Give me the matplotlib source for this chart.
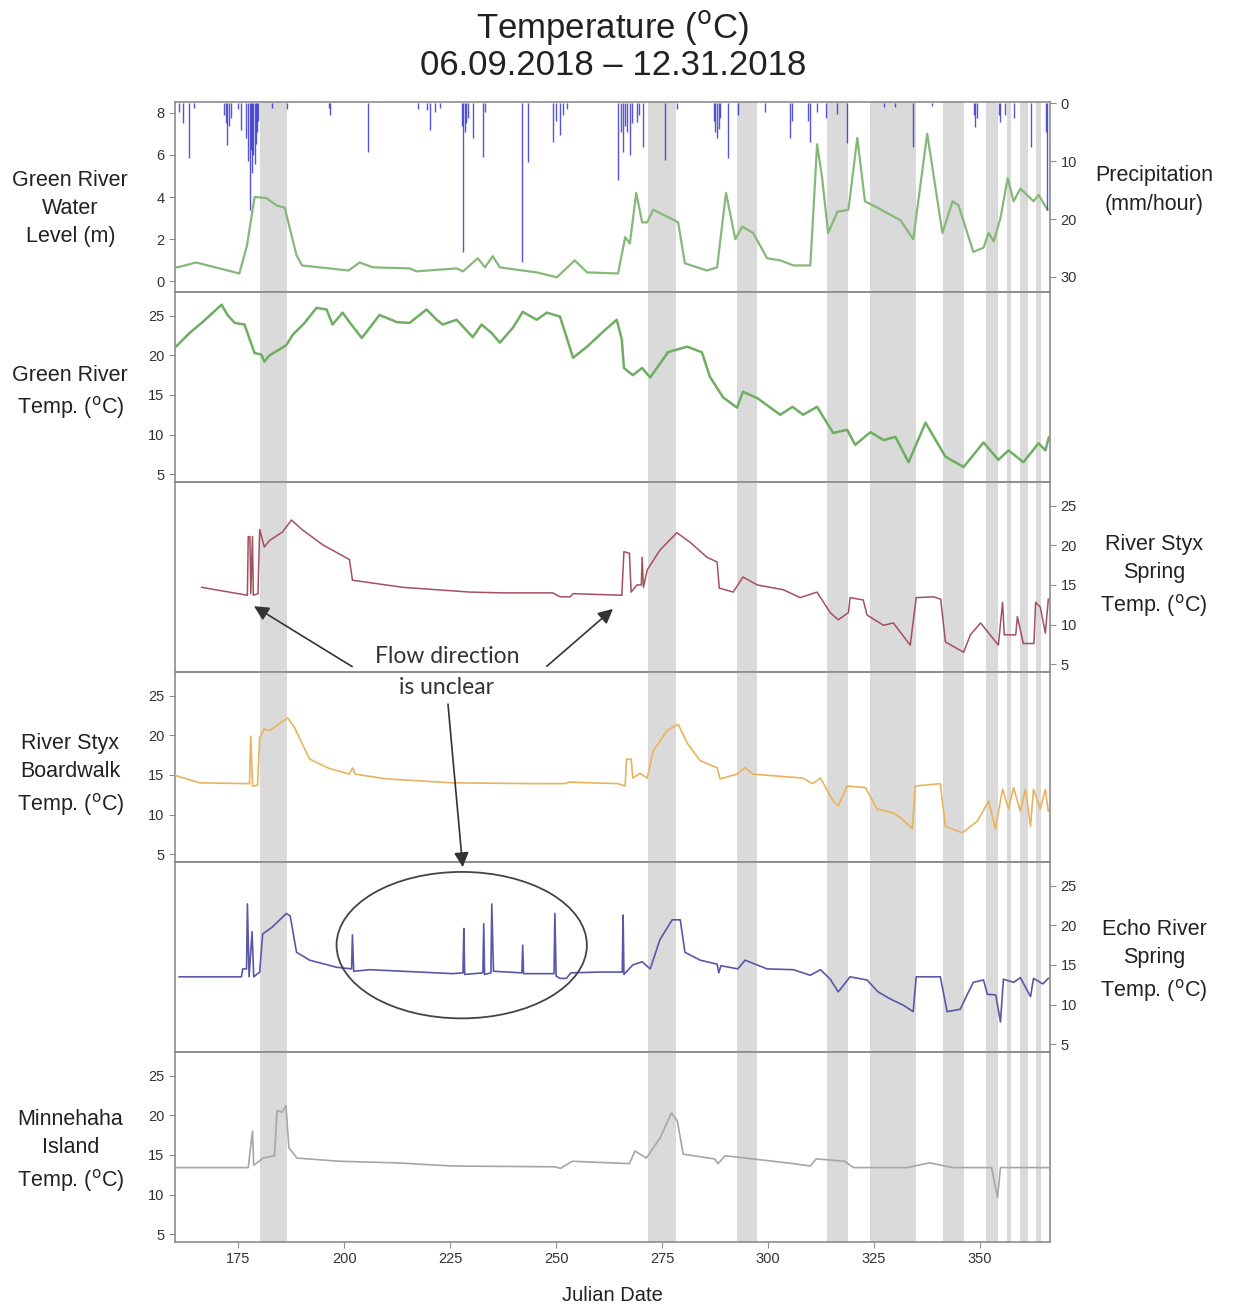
import matplotlib.pyplot as plt
from matplotlib.patches import Ellipse

plt.rcParams['font.family'] = ['Liberation Sans', 'DejaVu Sans']

# Julian-day windows shaded grey
bands = [(180, 186.5), (271.7, 278.3), (292.7, 297.5), (314, 319), (324.2, 335),
         (341.4, 346.2), (351.4, 354.4), (356.5, 357.5), (359.6, 361.5), (363.3, 364.5)]

# (julian day, precipitation mm/hour)
precip = [(161.0, 1.5), (161.8, 3.4), (163.4, 9.5), (164.5, 0.8), (171.5, 2.0), (172.0, 3.5),
          (172.4, 7.2), (172.8, 4.0), (173.2, 2.5), (175.0, 1.0), (175.7, 4.7), (176.8, 6.0),
          (177.2, 10.0), (177.6, 18.4), (177.9, 8.0), (178.2, 12.0), (178.5, 9.0), (178.8, 10.5),
          (179.1, 7.0), (179.4, 5.0), (179.7, 3.0), (183.0, 0.8), (186.5, 1.0), (196.3, 0.9),
          (196.5, 2.0), (205.5, 8.4), (217.3, 1.0), (219.5, 1.2), (220.2, 4.7), (221.5, 1.5),
          (222.5, 0.8), (227.8, 4.0), (228.0, 25.7), (228.4, 5.0), (228.8, 3.5), (229.3, 2.5),
          (230.3, 6.0), (232.7, 9.3), (233.2, 1.5), (241.9, 27.4), (243.3, 10.2), (249.2, 6.7),
          (250.0, 3.0), (250.9, 5.5), (251.5, 2.0), (252.5, 1.0), (264.6, 13.3), (265.2, 5.0),
          (265.8, 8.4), (266.3, 4.0), (266.8, 5.0), (267.4, 9.0), (268.0, 3.5), (269.0, 3.3),
          (269.6, 2.0), (270.5, 7.6), (275.7, 9.8), (278.5, 1.0), (287.2, 3.0), (287.6, 5.0),
          (288.0, 6.0), (288.4, 4.5), (288.8, 2.5), (290.6, 9.5), (293.0, 2.0), (299.4, 1.5),
          (305.3, 6.0), (305.6, 3.0), (309.4, 3.0), (310.0, 6.7), (311.5, 1.5), (313.6, 2.6),
          (316.2, 1.8), (318.7, 6.9), (327.5, 0.7), (330.0, 0.6), (334.3, 7.6), (338.8, 0.5),
          (348.6, 2.0), (349.0, 4.1), (349.4, 2.5), (354.5, 2.0), (354.9, 3.3), (356.0, 2.0),
          (358.0, 2.6), (362.0, 7.6), (365.6, 5.0), (366.0, 18.4)]

# (julian day, water level m)
water_level = [(160.0, 0.7), (160.6, 0.67), (165.0, 0.9), (175.2, 0.38), (177.0, 1.7), (178.8, 4.0),
               (181.6, 3.95), (184.0, 3.6), (185.9, 3.5), (188.7, 1.24), (190.0, 0.76), (201.0, 0.52),
               (203.6, 0.9), (206.7, 0.67), (215.4, 0.62), (217.0, 0.48), (226.5, 0.62), (228.0, 0.48),
               (231.5, 1.1), (233.2, 0.67), (235.0, 1.2), (236.7, 0.67), (245.4, 0.43), (250.2, 0.2),
               (254.4, 1.0), (257.3, 0.43), (264.6, 0.38), (266.3, 2.1), (267.4, 1.8), (268.9, 4.2),
               (270.3, 2.8), (271.5, 2.8), (272.9, 3.4), (276.9, 3.0), (278.8, 2.8), (280.4, 0.86),
               (285.6, 0.52), (288.0, 0.67), (290.1, 4.2), (292.3, 2.0), (293.9, 2.6), (296.5, 2.3),
               (299.8, 1.1), (302.9, 1.0), (306.0, 0.76), (310.0, 0.76), (310.5, 2.5), (311.6, 6.5),
               (312.8, 4.9), (314.2, 2.3), (316.4, 3.3), (319.0, 3.4), (321.1, 6.8), (322.9, 3.8),
               (325.8, 3.5), (331.3, 2.9), (334.3, 2.0), (337.6, 7.0), (341.2, 2.3), (343.6, 3.8),
               (345.0, 3.6), (348.5, 1.4), (350.9, 1.6), (352.1, 2.3), (353.3, 1.9), (354.9, 3.0),
               (356.6, 4.9), (358.0, 3.8), (359.6, 4.4), (362.7, 3.8), (363.9, 4.1), (366.0, 3.4)]

green_temp = [(160.0, 21.0), (160.6, 21.3), (163.4, 22.8), (166.5, 24.2), (171.0, 26.4), (172.4, 25.1),
              (174.1, 24.1), (176.4, 23.9), (178.8, 20.3), (180.4, 20.1), (181.1, 19.2), (182.3, 20.0),
              (184.5, 20.7), (186.3, 21.3), (187.8, 22.6), (190.6, 24.1), (193.4, 26.0), (195.8, 25.8),
              (197.2, 23.9), (199.6, 25.4), (201.2, 24.2), (204.1, 22.2), (206.0, 23.5), (208.3, 25.1),
              (212.4, 24.2), (215.4, 24.1), (219.4, 25.8), (221.8, 24.5), (223.2, 23.9), (226.5, 24.5),
              (230.3, 22.3), (232.4, 23.9), (234.8, 22.8), (236.7, 21.6), (239.8, 23.5), (242.1, 25.5),
              (245.4, 24.5), (247.8, 25.4), (250.9, 24.9), (254.0, 19.7), (257.3, 21.1), (261.1, 23.0),
              (264.3, 24.5), (265.5, 22.0), (266.0, 18.4), (268.1, 17.5), (270.3, 18.4), (272.2, 17.2),
              (276.4, 20.4), (280.9, 21.1), (284.4, 20.4), (286.3, 17.3), (289.4, 14.7), (292.7, 13.4),
              (294.1, 15.4), (297.5, 14.6), (302.9, 12.5), (305.8, 13.5), (308.3, 12.5), (311.6, 13.5),
              (315.4, 10.2), (318.7, 10.6), (320.6, 8.7), (324.2, 10.3), (327.3, 9.3), (330.1, 9.7),
              (333.2, 6.5), (337.2, 11.5), (341.9, 7.2), (346.2, 5.9), (350.9, 9.0), (354.4, 6.8),
              (356.8, 8.0), (360.3, 6.5), (363.9, 8.9), (365.5, 8.0), (366.3, 9.6)]

styx_spring = [(166.3, 14.7), (177.1, 13.7), (177.3, 21.1), (177.7, 21.1), (177.9, 13.9), (178.3, 21.1),
               (178.5, 13.7), (179.6, 13.9), (180.0, 22.0), (181.1, 19.8), (182.3, 20.6), (185.4, 21.7),
               (187.5, 23.2), (190.0, 22.0), (194.8, 20.1), (201.2, 18.2), (201.9, 15.6), (213.8, 14.7),
               (229.6, 14.1), (237.4, 14.0), (249.2, 14.0), (250.9, 13.5), (253.3, 13.5), (254.0, 13.9),
               (265.5, 13.7), (266.0, 19.2), (267.3, 19.0), (267.7, 14.1), (269.1, 15.0), (270.1, 15.0),
               (270.3, 18.5), (270.6, 14.7), (271.5, 16.9), (274.5, 19.4), (278.5, 21.6), (281.6, 20.4),
               (285.6, 18.5), (288.0, 17.9), (288.5, 14.6), (291.8, 14.1), (294.1, 16.0), (297.5, 15.0),
               (303.6, 14.4), (307.6, 13.4), (311.6, 14.1), (314.7, 11.5), (316.6, 10.6), (319.0, 11.5),
               (319.4, 13.4), (322.5, 13.1), (323.4, 11.2), (327.3, 9.9), (329.6, 10.2), (333.6, 7.4),
               (335.0, 13.4), (339.1, 13.5), (340.8, 13.2), (341.9, 7.8), (346.2, 6.5), (347.8, 8.7),
               (350.2, 10.2), (354.4, 7.4), (355.4, 12.8), (355.8, 8.7), (358.5, 8.7), (358.9, 11.0),
               (360.3, 7.6), (362.8, 7.6), (363.2, 12.8), (364.3, 12.2), (365.5, 8.9), (366.2, 13.2)]

styx_boardwalk = [(160.0, 15.0), (160.3, 14.9), (165.8, 14.0), (177.6, 13.9), (177.9, 19.9), (178.3, 13.6),
                  (179.5, 13.7), (180.0, 19.7), (181.1, 20.8), (182.3, 20.6), (186.6, 22.2), (188.2, 21.0),
                  (191.8, 17.0), (196.5, 15.8), (201.2, 15.1), (201.9, 15.9), (202.6, 15.1), (210.0, 14.5),
                  (225.6, 14.0), (245.4, 13.9), (252.0, 13.9), (253.0, 14.1), (264.6, 13.9), (266.3, 13.6),
                  (266.6, 17.0), (267.7, 17.0), (268.1, 14.6), (269.8, 15.2), (271.5, 14.6), (272.9, 18.0),
                  (276.2, 20.6), (278.8, 21.4), (281.1, 18.9), (284.0, 16.8), (288.0, 15.9), (288.7, 14.5),
                  (292.7, 15.1), (294.6, 15.9), (296.5, 15.1), (301.2, 14.9), (308.3, 14.6), (310.5, 13.9),
                  (312.4, 14.6), (315.4, 11.7), (316.6, 11.1), (318.7, 13.6), (323.0, 13.4), (325.8, 10.7),
                  (329.6, 10.2), (331.3, 9.6), (334.1, 8.2), (334.8, 13.6), (340.7, 13.9), (341.9, 8.5),
                  (345.9, 7.7), (349.5, 9.2), (352.1, 11.7), (353.7, 8.2), (355.4, 13.2), (356.8, 10.7),
                  (358.0, 13.4), (359.6, 10.4), (360.8, 13.2), (362.0, 8.5), (362.7, 13.2), (364.3, 10.7),
                  (365.5, 13.2), (366.2, 10.4)]

echo_spring = [(161.0, 13.5), (175.7, 13.5), (176.0, 14.5), (176.9, 14.5), (177.1, 22.7), (177.5, 13.5),
               (178.2, 19.2), (178.6, 13.5), (180.0, 14.1), (180.7, 18.9), (183.0, 19.8), (186.3, 21.5),
               (187.2, 21.2), (188.7, 16.6), (191.8, 15.6), (198.2, 14.7), (201.7, 14.5), (201.9, 18.8),
               (202.2, 14.2), (206.0, 14.4), (225.6, 13.9), (228.0, 14.0), (228.2, 19.6), (228.4, 13.8),
               (232.7, 14.0), (232.9, 20.2), (233.1, 13.8), (234.6, 14.0), (234.8, 22.7), (235.2, 14.2),
               (241.9, 14.0), (242.1, 17.5), (242.3, 13.9), (249.5, 13.9), (249.7, 21.5), (250.0, 13.6),
               (250.9, 13.3), (252.4, 13.3), (253.5, 14.0), (260.3, 14.1), (265.6, 14.1), (265.8, 21.3),
               (266.0, 13.8), (268.1, 15.0), (270.3, 15.4), (272.2, 14.5), (274.5, 18.2), (277.4, 20.7),
               (279.3, 20.7), (280.4, 16.6), (284.0, 15.6), (288.0, 15.1), (288.4, 14.0), (288.9, 14.9),
               (292.9, 14.5), (294.6, 15.6), (299.8, 14.5), (306.0, 14.4), (310.0, 13.7), (312.4, 14.4),
               (314.7, 13.2), (316.6, 11.6), (319.4, 13.5), (323.4, 13.1), (326.0, 11.6), (328.9, 10.7),
               (332.0, 9.9), (334.3, 9.1), (335.0, 13.5), (340.7, 13.5), (342.3, 9.1), (345.4, 9.4),
               (347.0, 11.2), (348.5, 12.8), (350.9, 13.1), (351.8, 11.3), (353.8, 11.2), (354.9, 7.8),
               (355.6, 13.2), (358.0, 12.8), (359.6, 13.4), (362.0, 11.0), (362.7, 13.3), (364.9, 12.6),
               (366.2, 13.3)]

minnehaha = [(160.0, 13.4), (177.3, 13.4), (178.3, 18.0), (178.6, 13.7), (180.8, 14.6), (183.5, 14.9),
             (184.1, 20.6), (185.3, 20.4), (186.2, 21.2), (186.9, 15.9), (188.8, 14.6), (198.8, 14.2),
             (212.2, 14.0), (225.6, 13.6), (249.8, 13.5), (251.0, 13.3), (253.8, 14.2), (267.3, 13.9),
             (268.6, 15.5), (271.3, 14.6), (274.6, 17.2), (277.2, 20.3), (278.6, 19.3), (280.0, 15.1),
             (287.4, 14.5), (288.2, 13.9), (289.9, 14.9), (306.0, 13.9), (310.0, 13.6), (311.4, 14.5),
             (318.1, 14.2), (320.2, 13.4), (332.8, 13.4), (338.2, 14.0), (343.6, 13.4), (352.8, 13.4),
             (354.2, 9.6), (354.9, 13.4), (366.5, 13.4)]

x_ticks = [175, 200, 225, 250, 275, 300, 325, 350]
temp_ticks = [5, 10, 15, 20, 25]

fig = plt.figure(figsize=(12.33, 13.10), dpi=100)
gs = fig.add_gridspec(6, 1, left=0.1419, right=0.8516, top=0.9221, bottom=0.0519, hspace=0)
axes = [fig.add_subplot(gs[i]) for i in range(6)]

spine_c = '#8c8c8c'
tick_c = '#333333'
for ax in axes:
    ax.patch.set_visible(False)  # so text spilling across panels stays visible
    ax.set_xlim(160, 366.6)
    for a, b in bands:
        ax.axvspan(a, b, color='#dadada', lw=0, zorder=0)
    for s in ax.spines.values():
        s.set_color(spine_c)
        s.set_linewidth(1.2)
    ax.tick_params(axis='both', colors=spine_c, labelcolor=tick_c, labelsize=10.5, length=4)
    ax.set_xticks(x_ticks)
    if ax is not axes[-1]:
        ax.tick_params(axis='x', bottom=False, labelbottom=False)
    if ax is not axes[0]:
        ax.set_ylim(4, 28)

# panel 1: water level + precipitation
ax1 = axes[0]
ax1.plot([d for d, v in water_level], [v for d, v in water_level], color='#86b87a', lw=1.6, zorder=3)
ax1.set_ylim(-0.5, 8.5)
ax1.set_yticks([0, 2, 4, 6, 8])
axp = ax1.twinx()
axp.vlines([d for d, v in precip], 0, [v for d, v in precip], color='#2a2ad0', lw=1.0, alpha=0.8)
axp.set_ylim(32.6, -0.2)
axp.set_yticks([0, 10, 20, 30])
axp.tick_params(colors=spine_c, labelcolor=tick_c, labelsize=10.5, length=4)
for s in axp.spines.values():
    s.set_visible(False)

series = [(green_temp, '#6fae62', 1.8), (styx_spring, '#a3505e', 1.1),
          (styx_boardwalk, '#e8b35c', 1.2), (echo_spring, '#5858a6', 1.2),
          (minnehaha, '#a6a6a6', 1.2)]
for ax, (data, col, lw) in zip(axes[1:], series):
    ax.plot([d for d, v in data], [v for d, v in data], color=col, lw=lw, zorder=3)

for i, ax in enumerate(axes[1:], start=1):
    ax.set_yticks(temp_ticks)
    if i in (2, 4):
        ax.yaxis.tick_right()
        ax.tick_params(axis='y', left=False)

axes[-1].set_xlabel('Julian Date', fontsize=14.5, color='#222222', labelpad=14)

lab = dict(fontsize=15.5, color='#222222', ha='center', va='center', linespacing=1.45)
deg = 'Temp. ($^{\\rm o}$C)'
fig.text(0.057, 0.841, 'Green River\nWater\nLevel (m)', **lab)
fig.text(0.057, 0.700, 'Green River\n' + deg, **lab)
fig.text(0.057, 0.408, 'River Styx\nBoardwalk\n' + deg, **lab)
fig.text(0.057, 0.121, 'Minnehaha\nIsland\n' + deg, **lab)
fig.text(0.936, 0.855, 'Precipitation\n(mm/hour)', **lab)
fig.text(0.936, 0.560, 'River Styx\nSpring\n' + deg, **lab)
fig.text(0.936, 0.266, 'Echo River\nSpring\n' + deg, **lab)

fig.text(0.497, 0.979, 'Temperature ($^{\\rm o}$C)', fontsize=25, ha='center', va='center', color='#222222')
fig.text(0.497, 0.950, '06.09.2018 \u2013 12.31.2018', fontsize=25, ha='center', va='center', color='#222222')

# annotation: arrows and ellipse
ax3, ax5 = axes[2], axes[4]
ax3.text(224.2, 4.0, 'Flow direction\nis unclear', fontsize=16.5, family=['Lato', 'DejaVu Sans'],
         color='#333333', ha='center', va='center', linespacing=1.6, zorder=6, clip_on=False)
arrow = dict(arrowstyle='-|>', color='#333333', lw=1.2, mutation_scale=22)
ax3.annotate('', xy=(178.1, 12.5), xytext=(202.4, 4.5), arrowprops=arrow, annotation_clip=False)
ax3.annotate('', xy=(263.9, 12.2), xytext=(247.3, 4.5), arrowprops=arrow, annotation_clip=False)
ax5.annotate('', xy=(228.0, 27.0), xytext=(224.4, 48.3), arrowprops=arrow, annotation_clip=False)
ax5.add_patch(Ellipse((227.7, 17.5), 59.1, 18.5, fill=False, ec='#444444', lw=1.3, zorder=5))

fig.savefig('out.png', dpi=100)
